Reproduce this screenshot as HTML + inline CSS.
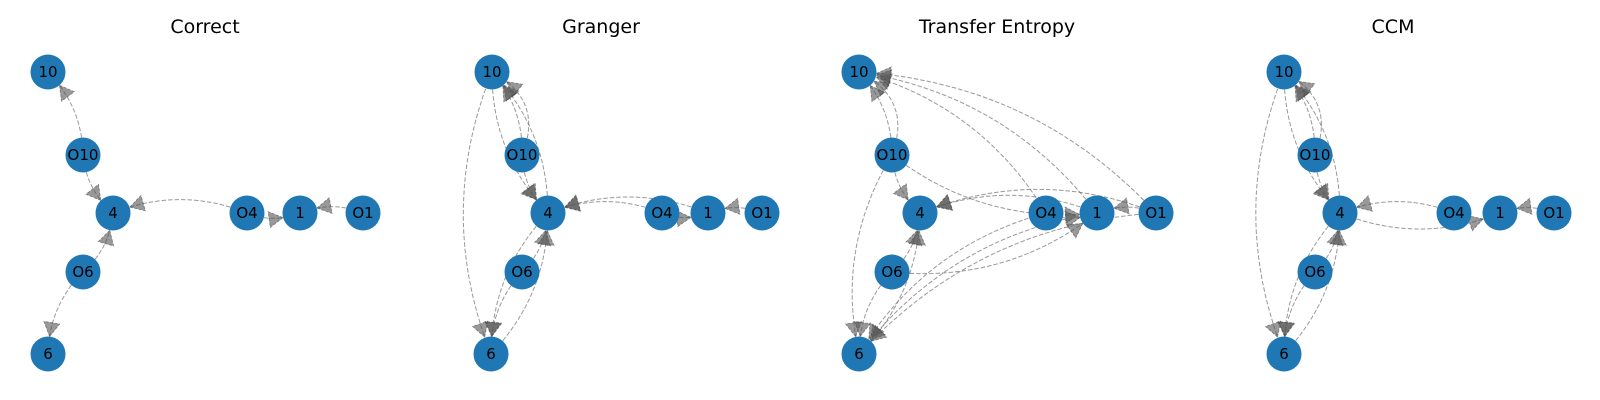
<!DOCTYPE html>
<html><head><meta charset="utf-8"><style>
html,body{margin:0;padding:0;background:#fff;width:1600px;height:400px;overflow:hidden}
svg{display:block}
text{font-family:"DejaVu Sans","Liberation Sans",sans-serif}
</style></head><body>
<svg id="s" width="1600" height="400" xmlns="http://www.w3.org/2000/svg">
<text x="205" y="33" font-size="19" text-anchor="middle">Correct</text>
<text x="601" y="33" font-size="19" text-anchor="middle">Granger</text>
<text x="997" y="33" font-size="19" text-anchor="middle">Transfer Entropy</text>
<text x="1393" y="33" font-size="19" text-anchor="middle">CCM</text>
<g id="e"></g><g id="n"></g>
</svg>
<script>
var R=17.5;
var panels=[
 {pos:{"10":[48,72],"O10":[83,155],"4":[113,213],"O6":[83,272],"6":[48,354],"O4":[247,213],"1":[300,213],"O1":[363,213]},
  edges:[["O10","10"],["O10","4"],["O4","4"],["O4","1"],["O1","1"],["O6","4"],["O6","6"]]},
 {pos:{"10":[492,72],"O10":[522,155],"4":[548,213],"O6":[522,272],"6":[491,354],"O4":[662,213],"1":[708,213],"O1":[762,213]},
  edges:[["10","6"],["10","4"],["4","10"],["O10","10"],["O10","10",0.45],["O10","4"],["1","4"],["O4","4"],["O4","1"],["O1","1"],["6","4"],["O6","4"],["O6","6"],["4","6"]]},
 {pos:{"10":[859,72],"O10":[892,155],"4":[920,213],"O6":[892,272],"6":[859,354],"O4":[1046,213],"1":[1097,213],"O1":[1156,213]},
  edges:[["O10","10"],["O10","10",0.45],["O4","10"],["1","10"],["O1","10"],["O10","4"],["1","4"],["O1","4"],["O6","4"],["6","4"],["O10","1"],["O4","1"],["O6","1"],["O1","1"],["O10","6"],["O6","6"],["O4","6"],["1","6"],["O1","6"]]},
 {pos:{"10":[1284,72],"O10":[1315,155],"4":[1340,213],"O6":[1315,272],"6":[1284,354],"O4":[1454,213],"1":[1500,213],"O1":[1554,213]},
  edges:[["10","6"],["10","4"],["4","10"],["O10","10"],["O10","10",0.45],["O10","4"],["O4","4"],["4","1"],["O1","1"],["O6","4"],["4","6"],["O6","6"],["6","4"]]}
];
var NS="http://www.w3.org/2000/svg";
var eg=document.getElementById("e"),ng=document.getElementById("n");
function q(p0,c,p1,t){var u=1-t;return[u*u*p0[0]+2*u*t*c[0]+t*t*p1[0],u*u*p0[1]+2*u*t*c[1]+t*t*p1[1]];}
function el(n,a){var e=document.createElementNS(NS,n);for(var k in a)e.setAttribute(k,a[k]);return e;}
panels.forEach(function(P){
 P.edges.forEach(function(ed){
  var a=P.pos[ed[0]],b=P.pos[ed[1]];
  var dx=b[0]-a[0],dy=b[1]-a[1],rad=ed[2]||0.2;
  var c=[(a[0]+b[0])/2-rad*dy,(a[1]+b[1])/2+rad*dx];
  var t0=0,t1=1,i,p;
  for(i=0;i<=400;i++){p=q(a,c,b,i/400);if(Math.hypot(p[0]-a[0],p[1]-a[1])>=R){t0=i/400;break;}}
  for(i=400;i>=0;i--){p=q(a,c,b,i/400);if(Math.hypot(p[0]-b[0],p[1]-b[1])>=R){t1=i/400;break;}}
  var tip=q(a,c,b,t1);
  var back=q(a,c,b,t1-0.01);
  var ux=tip[0]-back[0],uy=tip[1]-back[1],L=Math.hypot(ux,uy);ux/=L;uy/=L;
  var HL=14,HW=8;
  var base=[tip[0]-ux*HL,tip[1]-uy*HL];
  var d="";
  for(i=0;i<=40;i++){var t=t0+(t1-t0)*i/40;p=q(a,c,b,t);d+=(i?"L":"M")+p[0].toFixed(1)+" "+p[1].toFixed(1);}
  eg.appendChild(el("path",{d:d,fill:"none",stroke:"#777","stroke-opacity":"0.75","stroke-width":"1","stroke-dasharray":"4.5,2"}));
  var pts=[tip,[base[0]-uy*HW,base[1]+ux*HW],[base[0]+uy*HW,base[1]-ux*HW]];
  eg.appendChild(el("polygon",{points:pts.map(function(x){return x[0].toFixed(1)+","+x[1].toFixed(1)}).join(" "),fill:"#555","fill-opacity":"0.6",stroke:"#444","stroke-opacity":"0.6","stroke-width":"0.8","stroke-dasharray":"3,1.5"}));
 });
 for(var k in P.pos){var p=P.pos[k];
  ng.appendChild(el("circle",{cx:p[0],cy:p[1],r:R,fill:"#1f77b4"}));
  var t=el("text",{x:p[0],y:p[1]+5,"font-size":"15","text-anchor":"middle",fill:"#000"});t.textContent=k;ng.appendChild(t);}
});
</script>
</body></html>
